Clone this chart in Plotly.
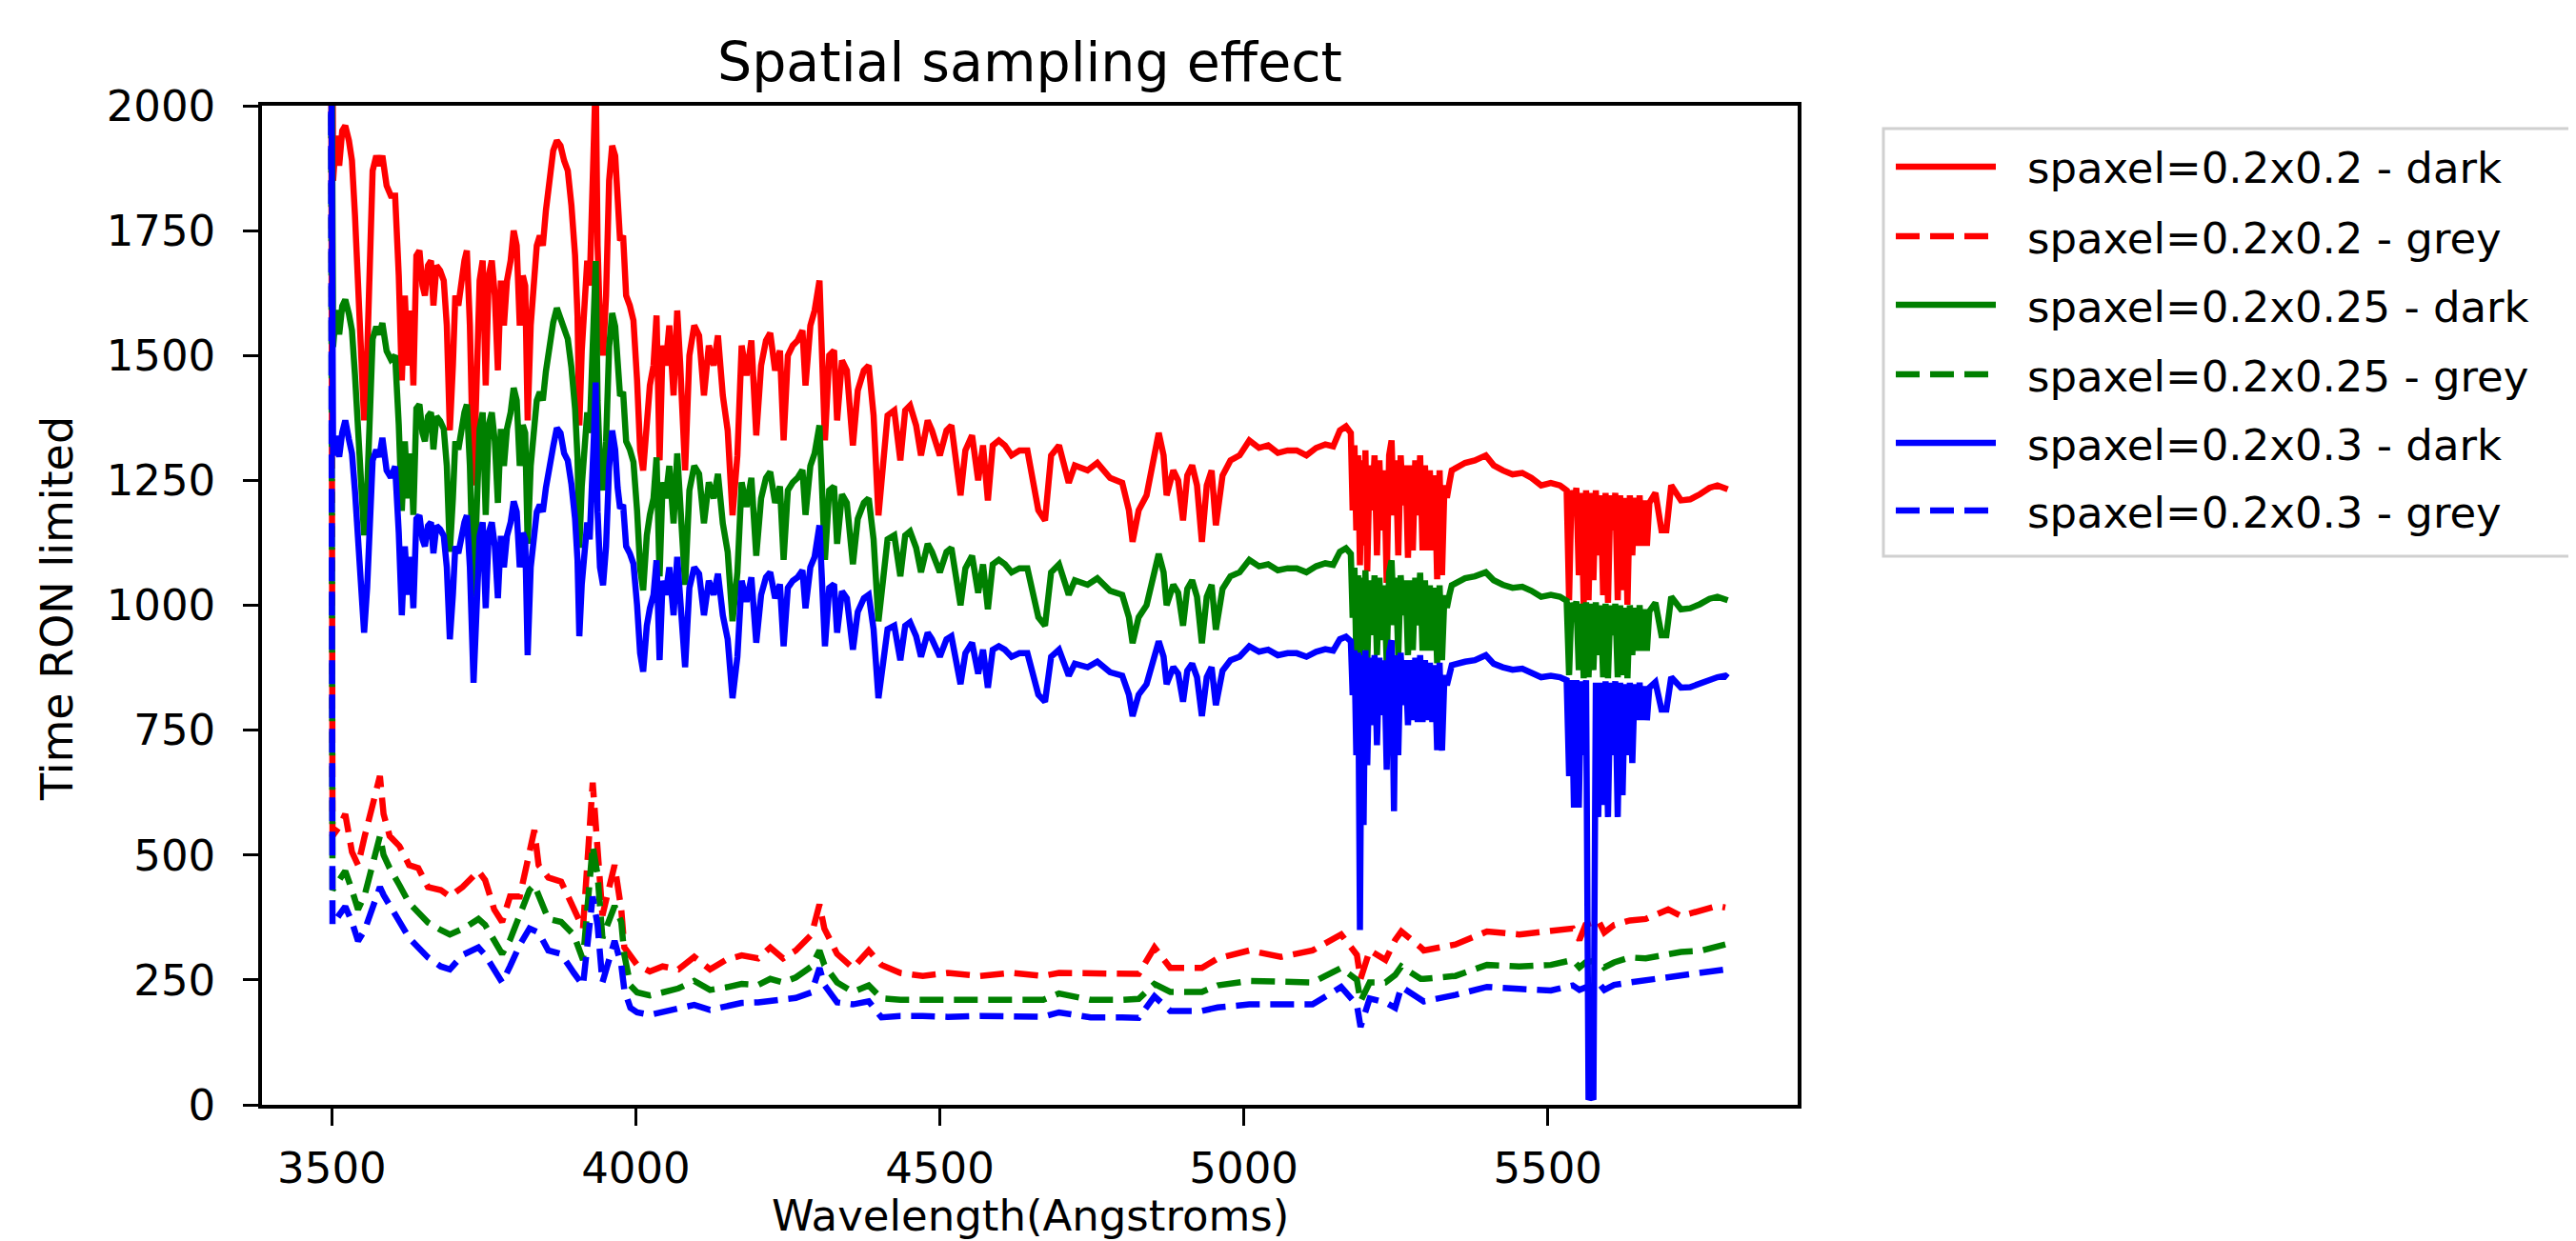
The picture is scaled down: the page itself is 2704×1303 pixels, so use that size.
import plotly.graph_objects as go

# ---------------- data ----------------
wavelength = [
    3498, 3502, 3507, 3512, 3517, 3522, 3528, 3533, 3538, 3543, 3548, 3553, 3558, 3562, 3567, 3573, 3578, 3583, 3590, 3597,
    3604, 3610, 3615, 3620, 3625, 3630, 3634, 3639, 3644, 3649, 3653, 3658, 3663, 3667, 3672, 3678, 3684, 3689, 3694, 3699,
    3703, 3708, 3713, 3718, 3722, 3727, 3733, 3738, 3743, 3748, 3753, 3758, 3763, 3768, 3773, 3778, 3783, 3788, 3794, 3799,
    3804, 3809, 3814, 3818, 3822, 3827, 3832, 3837, 3842, 3847, 3852, 3858, 3864, 3870, 3876, 3882, 3888, 3894, 3900, 3904,
    3907, 3911, 3916, 3920, 3924, 3928, 3931, 3934, 3937, 3941, 3946, 3951, 3956, 3961, 3966, 3970, 3974, 3979, 3984, 3990,
    3996, 4002, 4007, 4012, 4018, 4023, 4029,
    4034, 4039, 4044, 4049, 4055, 4062, 4068, 4073, 4081, 4088, 4096, 4104, 4112, 4120, 4128, 4135, 4143, 4151, 4159, 4167,
    4174, 4182, 4190, 4198, 4206, 4214, 4221, 4229, 4237, 4243, 4250, 4258, 4266, 4274, 4279, 4287, 4294, 4302, 4307, 4311,
    4318, 4326, 4331, 4339, 4347, 4357, 4365, 4375, 4383, 4391, 4399, 4407, 4414,
    4425, 4435, 4443, 4451, 4461, 4469, 4480, 4487, 4500, 4511, 4519, 4527, 4534, 4542, 4553, 4563, 4571, 4579, 4587, 4597,
    4607, 4618, 4631, 4644, 4652, 4662, 4673, 4683, 4696, 4712, 4722, 4743, 4759, 4780, 4800, 4811, 4817, 4827, 4840, 4850,
    4860, 4868, 4873, 4884, 4892, 4900, 4907, 4915, 4923, 4931, 4939, 4947, 4954, 4965, 4978, 4993, 5009, 5025, 5040, 5056,
    5072, 5087, 5103, 5119, 5134, 5147, 5158, 5168, 5176,
    5179, 5182, 5185, 5188, 5191, 5194, 5197, 5200, 5203, 5207, 5211, 5215, 5219, 5223, 5227, 5231, 5235, 5239, 5243, 5247,
    5250, 5254, 5258, 5262, 5266, 5270, 5274, 5278, 5282, 5286, 5290, 5294, 5298, 5302, 5306, 5310, 5314, 5318, 5322, 5326,
    5330, 5334, 5338, 5342,
    5364, 5380, 5398, 5411, 5426, 5442, 5458, 5473, 5489, 5505, 5520, 5531,
    5535, 5539, 5543, 5547, 5551, 5555, 5559, 5563, 5567, 5571, 5575, 5579, 5583, 5587, 5591, 5595, 5599, 5603, 5607, 5611,
    5615, 5619, 5623, 5627, 5631, 5635, 5639, 5643, 5647, 5651, 5655, 5659, 5663, 5667,
    5677, 5687, 5695, 5703, 5719, 5734, 5750, 5766, 5779, 5792, 5796,
]

red_dark = [
    2900, 1850, 1940, 1880, 1950, 1960, 1930, 1890, 1780, 1630, 1480, 1370, 1500, 1660, 1870, 1900, 1880, 1900, 1840, 1820,
    1820, 1660, 1450, 1620, 1480, 1590, 1440, 1700, 1710, 1640, 1620, 1680, 1690, 1600, 1680, 1670, 1650, 1560, 1350, 1480,
    1620, 1600, 1650, 1690, 1710, 1560, 1240, 1460, 1650, 1690, 1440, 1660, 1690, 1620, 1470, 1650, 1560, 1650, 1690, 1750,
    1720, 1560, 1660, 1640, 1370, 1560, 1660, 1720, 1740, 1720, 1790, 1860, 1910, 1930, 1920, 1890, 1870, 1800, 1700, 1580,
    1360, 1510, 1630, 1690, 1640, 1780, 1940, 2060, 1720, 1560, 1500, 1620, 1850, 1920, 1900, 1790, 1730, 1740, 1620, 1600,
    1570, 1450, 1310, 1270, 1390, 1440, 1480,
    1580, 1290, 1520, 1480, 1560, 1420, 1590, 1480, 1270, 1500, 1560, 1540, 1420, 1520, 1480, 1540, 1420, 1350, 1180, 1300,
    1520, 1460, 1530, 1340, 1480, 1530, 1545, 1470, 1510, 1330, 1500, 1520, 1530, 1550, 1440, 1560, 1590, 1650, 1510, 1330,
    1500, 1510, 1370, 1490, 1470, 1320, 1430, 1470, 1480, 1380, 1180, 1280, 1380,
    1390, 1290, 1390, 1400, 1360, 1300, 1370, 1350, 1300, 1350, 1360, 1290, 1220, 1310, 1340, 1250, 1320, 1210, 1320, 1330,
    1320, 1300, 1310, 1310, 1260, 1190, 1170, 1300, 1320, 1245, 1280, 1270, 1285, 1255, 1245, 1190, 1127, 1190, 1220, 1280,
    1345, 1300, 1220, 1270, 1250, 1170, 1260, 1280, 1240, 1127, 1240, 1270, 1160, 1260, 1290, 1300, 1330, 1315, 1320, 1305,
    1310, 1310, 1300, 1315, 1322, 1318, 1350, 1358, 1345,
    1190, 1320, 1150, 1300, 1080, 1290, 1120, 1310, 1068, 1280, 1190, 1300, 1100, 1290, 1150, 1270, 1045, 1300, 1330, 1180,
    1290, 1100, 1300, 1200, 1280, 1095, 1280, 1110, 1290, 1180, 1300, 1110, 1280, 1110, 1270, 1110, 1260, 1052, 1270, 1060,
    1240, 1215, 1244, 1270,
    1285, 1290, 1300, 1280, 1270, 1262, 1265, 1255, 1240, 1245, 1240, 1230,
    1010, 1230, 1200, 1235, 1060, 1225, 1001, 1230, 1010, 1225, 1050, 1230, 1100, 1220, 1020, 1225, 1005, 1220, 1150, 1225,
    1010, 1220, 1030, 1215, 1001, 1220, 1100, 1215, 1119, 1220, 1119, 1210, 1119, 1205,
    1225, 1150, 1150, 1240, 1210, 1212, 1222, 1235, 1240, 1236, 1232,
]

green_dark = [
    2600, 1517, 1591, 1542, 1599, 1612, 1583, 1550, 1460, 1337, 1214, 1140, 1230, 1361, 1533, 1558, 1542, 1565, 1509, 1492,
    1500, 1361, 1189, 1328, 1214, 1304, 1181, 1394, 1402, 1345, 1328, 1378, 1386, 1312, 1378, 1369, 1353, 1279, 1107, 1214,
    1328, 1312, 1353, 1386, 1402, 1279, 1017, 1197, 1353, 1386, 1181, 1361, 1386, 1328, 1205, 1353, 1279, 1353, 1386, 1435,
    1410, 1279, 1361, 1345, 1123, 1279, 1361, 1410, 1427, 1410, 1468, 1525, 1566, 1595, 1574, 1550, 1533, 1476, 1394, 1296,
    1115, 1238, 1337, 1386, 1345, 1460, 1591, 1689, 1410, 1279, 1230, 1328, 1517, 1585, 1558, 1468, 1419, 1427, 1328, 1312,
    1287, 1189, 1074, 1030, 1140, 1181, 1214,
    1296, 1058, 1246, 1214, 1279, 1164, 1304, 1214, 1041, 1230, 1279, 1263, 1164, 1246, 1214, 1263, 1164, 1107, 968, 1066,
    1246, 1197, 1255, 1099, 1214, 1255, 1267, 1205, 1238, 1091, 1230, 1246, 1255, 1271, 1181, 1279, 1304, 1360, 1238, 1091,
    1230, 1238, 1123, 1222, 1205, 1082, 1173, 1205, 1214, 1132, 968, 1050, 1132,
    1140, 1058, 1140, 1148, 1115, 1066, 1123, 1107, 1066, 1107, 1115, 1058, 1000, 1074, 1099, 1025, 1082, 992, 1082, 1091,
    1082, 1066, 1074, 1074, 1033, 976, 959, 1066, 1082, 1021, 1050, 1041, 1054, 1029, 1021, 976, 924, 976, 1000, 1050,
    1103, 1066, 1000, 1041, 1025, 959, 1033, 1050, 1017, 924, 1017, 1041, 951, 1033, 1058, 1066, 1091, 1078, 1082, 1070,
    1074, 1074, 1066, 1078, 1084, 1081, 1107, 1114, 1103,
    975, 1075, 900, 1060, 890, 1055, 910, 1070, 885, 1050, 940, 1060, 900, 1055, 930, 1040, 884, 1065, 1090, 960,
    1055, 900, 1060, 980, 1050, 900, 1050, 910, 1055, 960, 1065, 909, 1050, 909, 1040, 909, 1035, 884, 1040, 890,
    1020, 995, 1020, 1040,
    1054, 1058, 1066, 1050, 1041, 1035, 1037, 1029, 1017, 1021, 1017, 1009,
    860, 1005, 985, 1008, 870, 1003, 854, 1006, 856, 1003, 870, 1006, 900, 1000, 856, 1003, 854, 1000, 940, 1003,
    856, 1000, 860, 995, 854, 1000, 900, 995, 909, 1000, 909, 992, 909, 988,
    1005, 940, 940, 1017, 992, 994, 1002, 1013, 1017, 1014, 1010,
]

blue_dark = [
    2400, 1300, 1339, 1297, 1346, 1370, 1332, 1304, 1228, 1125, 1021, 945, 1035, 1145, 1290, 1311, 1297, 1335, 1270, 1256,
    1278, 1145, 980, 1118, 1021, 1097, 994, 1173, 1180, 1132, 1118, 1159, 1166, 1104, 1159, 1152, 1139, 1076, 932, 1021,
    1118, 1104, 1139, 1166, 1180, 1076, 845, 1007, 1139, 1166, 994, 1145, 1166, 1118, 1014, 1139, 1076, 1139, 1166, 1208,
    1187, 1076, 1145, 1132, 900, 1076, 1145, 1187, 1201, 1187, 1235, 1283, 1318, 1355, 1345, 1304, 1290, 1242, 1173, 1090,
    938, 1042, 1125, 1166, 1132, 1228, 1339, 1446, 1187, 1076, 1040, 1118, 1277, 1350, 1311, 1235, 1194, 1201, 1118, 1104,
    1083, 1000, 904, 867, 959, 994, 1021,
    1090, 890, 1049, 1021, 1076, 980, 1097, 1021, 876, 1035, 1076, 1063, 980, 1049, 1021, 1063, 980, 932, 814, 897,
    1049, 1007, 1056, 925, 1021, 1056, 1066, 1014, 1042, 918, 1035, 1049, 1056, 1070, 994, 1076, 1097, 1160, 1042, 918,
    1035, 1042, 945, 1028, 1014, 911, 987, 1014, 1021, 952, 814, 883, 952,
    959, 890, 959, 966, 938, 897, 945, 932, 897, 932, 938, 890, 842, 904, 925, 863, 911, 835, 911, 918,
    911, 897, 904, 904, 869, 821, 807, 897, 911, 859, 883, 876, 887, 866, 859, 821, 778, 821, 842, 883,
    928, 897, 842, 876, 863, 807, 869, 883, 856, 778, 856, 876, 800, 869, 890, 897, 918, 907, 911, 900,
    904, 904, 897, 907, 912, 909, 932, 937, 928,
    820, 910, 700, 905, 350, 900, 560, 910, 680, 895, 760, 900, 720, 895, 780, 890, 671, 905, 930, 588,
    900, 700, 905, 800, 890, 760, 890, 770, 895, 766, 900, 766, 890, 770, 885, 766, 880, 710, 885, 709,
    860, 840, 860, 880,
    887, 890, 900, 883, 876, 871, 873, 866, 856, 859, 856, 850,
    658, 850, 595, 850, 595, 848, 700, 850, 10, 20, 10, 845, 576, 845, 600, 848, 576, 845, 700, 848,
    576, 845, 620, 842, 700, 845, 684, 842, 770, 845, 770, 838, 770, 835,
    846, 791, 791, 856, 835, 836, 843, 852, 856, 859, 855,
]

wavelength_grey = [
    3498, 3501, 3512, 3522, 3533, 3543, 3554, 3567, 3579, 3585, 3595, 3611, 3627, 3642, 3658, 3679, 3694, 3715, 3741, 3752,
    3767, 3780, 3793, 3809, 3825, 3833, 3840, 3856, 3877, 3898, 3913, 3929, 3937, 3945, 3965, 3976, 3981, 3991, 4002, 4023,
    4044, 4070, 4096, 4122, 4148, 4174, 4201, 4221, 4242, 4263, 4289, 4302, 4310, 4331, 4357, 4383, 4404, 4435, 4472, 4513,
    4566, 4618, 4670, 4696, 4748, 4800, 4827, 4853, 4879, 4931, 4957, 5009, 5061, 5113, 5160, 5186, 5192, 5207, 5233, 5249,
    5259, 5291, 5296, 5348, 5400, 5453, 5505, 5541, 5552, 5562, 5583, 5593, 5609, 5635, 5661, 5698, 5719, 5750, 5779, 5792,
]

red_grey = [
    2900, 538, 557, 582, 506, 480, 538, 601, 658, 582, 538, 518, 480, 474, 436, 430, 417, 436, 468, 450,
    391, 366, 417, 417, 506, 550, 480, 455, 447, 391, 353, 645, 525, 379, 480, 391, 315, 300, 280, 267,
    277, 271, 296, 271, 290, 299, 293, 315, 293, 309, 341, 401, 353, 302, 274, 309, 280, 264, 258, 264,
    258, 264, 258, 264, 264, 261, 262, 315, 274, 274, 293, 309, 296, 309, 341, 300, 252, 309, 290, 330,
    347, 315, 309, 321, 347, 341, 347, 353, 330, 360, 369, 345, 360, 369, 372, 391, 378, 388, 398, 395,
]

green_grey = [
    2600, 430, 450, 468, 430, 391, 420, 480, 538, 500, 474, 440, 404, 385, 365, 350, 341, 352, 372, 360,
    330, 302, 330, 380, 430, 440, 420, 372, 366, 340, 290, 519, 460, 334, 398, 366, 300, 239, 225, 219,
    225, 233, 248, 230, 235, 242, 240, 252, 245, 255, 277, 309, 280, 245, 226, 239, 213, 210, 210, 210,
    212, 212, 210, 223, 210, 210, 212, 242, 226, 226, 239, 248, 245, 245, 274, 250, 207, 245, 245, 260,
    277, 252, 252, 258, 280, 277, 280, 290, 275, 285, 290, 275, 285, 295, 293, 300, 306, 308, 315, 321,
]

blue_grey = [
    2400, 360, 380, 397, 366, 328, 350, 395, 436, 420, 400, 370, 334, 315, 295, 277, 271, 300, 315, 300,
    270, 245, 277, 320, 353, 350, 345, 309, 302, 264, 239, 417, 360, 245, 328, 280, 230, 194, 185, 180,
    185, 194, 200, 190, 198, 204, 205, 208, 210, 214, 225, 274, 240, 205, 201, 207, 175, 178, 178, 176,
    178, 178, 176, 185, 175, 175, 174, 217, 188, 188, 195, 201, 201, 201, 236, 200, 156, 213, 205, 194,
    236, 213, 207, 220, 236, 232, 229, 239, 230, 235, 245, 230, 240, 245, 249, 255, 258, 262, 267, 271,
]

labels = [
    "spaxel=0.2x0.2 - dark", "spaxel=0.2x0.2 - grey",
    "spaxel=0.2x0.25 - dark", "spaxel=0.2x0.25 - grey",
    "spaxel=0.2x0.3 - dark", "spaxel=0.2x0.3 - grey",
]
x_ticks = [3500, 4000, 4500, 5000, 5500]
y_ticks = [0, 250, 500, 750, 1000, 1250, 1500, 1750, 2000]

assert len(wavelength) == len(red_dark) == len(green_dark) == len(blue_dark)
assert len(wavelength_grey) == len(red_grey) == len(green_grey) == len(blue_grey)

# ---------------- figure ----------------
FONT = "DejaVu Sans"
W, H = 2704, 1303
PL, PR, PT, PB = 267, 1879, 103, 1152   # plot area in pixels
LW = 6.5
DASH = "25px,11px"
colors = ["#ff0000", "#ff0000", "#008000", "#008000", "#0000ff", "#0000ff"]
dashes = ["solid", DASH, "solid", DASH, "solid", DASH]
series = [
    (wavelength, red_dark), (wavelength_grey, red_grey),
    (wavelength, green_dark), (wavelength_grey, green_grey),
    (wavelength, blue_dark), (wavelength_grey, blue_grey),
]

fig = go.Figure()
for (xs, ys), lab, c, d in zip(series, labels, colors, dashes):
    fig.add_trace(go.Scatter(x=xs, y=ys, mode="lines", name=lab, showlegend=False,
                             line=dict(color=c, width=LW, dash=d)))

def px(x):
    return (x - PL) / (PR - PL)

def py(y):
    return (PB - y) / (PB - PT)

shapes = []
annotations = []
# legend box
shapes.append(dict(type="rect", xref="paper", yref="paper",
                   x0=px(1969), x1=px(2696), y0=py(576), y1=py(127),
                   line=dict(color="#d0d0d0", width=3), fillcolor="white", layer="above"))
rows = [167, 240, 312, 385, 457, 528]
for lab, c, d, ry in zip(labels, colors, dashes, rows):
    shapes.append(dict(type="line", xref="paper", yref="paper",
                       x0=px(1982), x1=px(2087), y0=py(ry), y1=py(ry),
                       line=dict(color=c, width=LW, dash=d)))
    annotations.append(dict(xref="paper", yref="paper", x=px(2118), y=py(ry + 2),
                            text=lab, showarrow=False, xanchor="left", yanchor="middle",
                            font=dict(family=FONT, size=45, color="#000000")))

annotations.append(dict(xref="paper", yref="paper", x=0.5, y=py(57), text="Spatial sampling effect",
                        showarrow=False, xanchor="center", yanchor="middle",
                        font=dict(family=FONT, size=57, color="#000000")))
annotations.append(dict(xref="paper", yref="paper", x=0.5, y=py(1268), text="Wavelength(Angstroms)",
                        showarrow=False, xanchor="center", yanchor="middle",
                        font=dict(family=FONT, size=45, color="#000000")))
annotations.append(dict(xref="paper", yref="paper", x=px(52), y=py(631), text="Time RON limited",
                        showarrow=False, xanchor="center", yanchor="middle", textangle=-90,
                        font=dict(family=FONT, size=46, color="#000000")))

axis_common = dict(showgrid=False, zeroline=False, showline=True, mirror=True,
                   linecolor="#000000", linewidth=3.5, ticks="outside", tickwidth=3,
                   tickcolor="#000000", tickfont=dict(family=FONT, size=45, color="#000000"))

fig.update_layout(
    width=W, height=H,
    margin=dict(l=PL, r=W - PR, t=PT, b=H - PB),
    paper_bgcolor="white", plot_bgcolor="white",
    showlegend=False,
    shapes=shapes, annotations=annotations,
    xaxis=dict(range=[3385, 5911], tickvals=x_ticks, ticktext=[str(v) for v in x_ticks],
               ticklen=18, ticklabelstandoff=6, **axis_common),
    yaxis=dict(range=[0, 2000], tickvals=y_ticks, ticktext=[str(v) for v in y_ticks],
               ticklen=16, ticklabelstandoff=20, **axis_common),
)

fig.write_html("out.html")
